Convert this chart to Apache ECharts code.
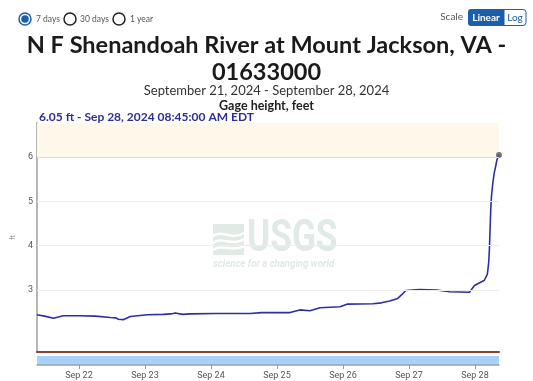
<!DOCTYPE html>
<html>
<head>
<meta charset="utf-8">
<script src="https://cdn.jsdelivr.net/npm/echarts@6/dist/echarts.min.js"></script>
<style>
html,body{margin:0;padding:0;background:#fff;}
#chart{width:533px;height:381px;}
</style>
</head>
<body>
<div id="chart"></div>
<script>
// ---- data ----
const times = [
 '2024-09-21 08:45','2024-09-21 11:30','2024-09-21 14:45','2024-09-21 18:15','2024-09-22 00:30',
 '2024-09-22 06:00','2024-09-22 11:25','2024-09-22 13:30','2024-09-22 14:20','2024-09-22 15:00','2024-09-22 16:10',
 '2024-09-22 18:40','2024-09-23 00:50','2024-09-23 06:40','2024-09-23 09:30','2024-09-23 11:00','2024-09-23 13:35',
 '2024-09-23 16:25','2024-09-24 01:30','2024-09-24 08:00','2024-09-24 14:15','2024-09-24 18:30','2024-09-25 04:45',
 '2024-09-25 08:20','2024-09-25 12:00','2024-09-25 15:40','2024-09-25 22:55','2024-09-26 01:30','2024-09-26 10:55',
 '2024-09-26 14:00','2024-09-26 17:00','2024-09-26 19:55','2024-09-26 21:30','2024-09-26 22:50','2024-09-27 03:50',
 '2024-09-27 10:05','2024-09-27 14:45','2024-09-27 22:00','2024-09-27 23:50','2024-09-28 03:25','2024-09-28 04:30',
 '2024-09-28 05:00','2024-09-28 05:15','2024-09-28 05:30','2024-09-28 05:45','2024-09-28 06:00','2024-09-28 06:30',
 '2024-09-28 07:00','2024-09-28 07:30','2024-09-28 08:00','2024-09-28 08:45'
];
const gageFt = [
 2.44,2.41,2.36,2.42,2.42,
 2.41,2.38,2.37,2.34,2.36,2.33,
 2.40,2.44,2.45,2.46,2.48,2.45,
 2.46,2.47,2.47,2.47,2.49,2.49,
 2.55,2.53,2.60,2.62,2.68,2.69,
 2.71,2.75,2.81,2.90,2.99,3.01,
 3.00,2.96,2.95,3.10,3.22,3.35,
 3.61,3.91,4.36,4.81,5.11,5.41,
 5.64,5.78,5.94,6.05
];
const yTickLabels = [3,4,5,6];
const floodStage = 6;
const yMin = 1.6, yMax = 6.77;
const xStart = '2024-09-21 08:45', xEnd = '2024-09-28 08:45';
const monthNames = ['Jan','Feb','Mar','Apr','May','Jun','Jul','Aug','Sep','Oct','Nov','Dec'];
const titleText = 'N F Shenandoah River at Mount Jackson, VA -\n01633000';
const subText = 'September 21, 2024 - September 28, 2024';
const paramText = 'Gage height, feet';
const lastIdx = gageFt.length - 1;
const latestText = gageFt[lastIdx].toFixed(2) + ' ft - Sep 28, 2024 08:45:00 AM EDT';

const series = times.map((t, i) => [t, gageFt[i]]);

const chart = echarts.init(document.getElementById('chart'), null, {renderer: 'canvas'});
const FONT = 'Lato';
const blue = '#1b5faa';
const wm = '#e1eae5';

chart.setOption({
  animation: false,
  title: [
    {text: titleText, left: 'center', top: 27,
     textStyle: {fontFamily: FONT, fontWeight: 'bold', fontSize: 23.5, color: '#1a1a1a', lineHeight: 27}},
    {text: subText, left: 'center', top: 79,
     textStyle: {fontFamily: FONT, fontWeight: 'normal', fontSize: 13, color: '#333'}},
    {text: paramText, left: 'center', top: 94,
     textStyle: {fontFamily: FONT, fontWeight: 'bold', fontSize: 12.5, color: '#222'}},
    {text: latestText, left: 34, top: 106,
     textStyle: {fontFamily: FONT, fontWeight: 'bold', fontSize: 12, color: '#2e2e96'}}
  ],
  grid: [
    {left: 37, right: 34, top: 123, bottom: 29},
    {left: 37, right: 34, top: 356, height: 9, show: true, backgroundColor: '#a9d2fb', borderWidth: 0}
  ],
  xAxis: [
    {type: 'time', gridIndex: 0, min: xStart, max: xEnd,
     axisLine: {onZero: false, lineStyle: {color: '#8c3f35', width: 2}},
     axisTick: {show: false}, axisLabel: {show: false}, splitLine: {show: false}},
    {type: 'time', gridIndex: 1, min: xStart, max: xEnd, offset: 2,
     minInterval: 86400000, maxInterval: 86400000,
     axisLine: {lineStyle: {color: '#a0a0a0', width: 1.5}},
     axisTick: {show: true, length: 4, lineStyle: {color: '#999'}},
     axisLabel: {show: true, color: '#555', fontSize: 9, fontFamily: 'Roboto', margin: 4,
       showMinLabel: false, showMaxLabel: false,
       formatter: v => { const d = new Date(v); return monthNames[d.getMonth()] + ' ' + d.getDate(); }},
     splitLine: {show: false}}
  ],
  yAxis: [
    {type: 'value', gridIndex: 0, min: yMin, max: yMax,
     name: 'ft', nameLocation: 'middle', nameGap: 5,
     nameTextStyle: {fontSize: 6.5, color: '#777', fontFamily: 'Roboto'},
     axisLine: {show: true, lineStyle: {color: '#b5b5b5', width: 2}},
     axisTick: {show: false},
     axisLabel: {color: '#555', fontSize: 9, fontFamily: 'Roboto', margin: 4,
       formatter: v => yTickLabels.indexOf(Math.round(v * 1000) / 1000) >= 0 ? String(v) : ''},
     splitLine: {show: false}},
    {type: 'value', gridIndex: 1, show: false, min: 0, max: 1}
  ],
  graphic: [
    // radio buttons
    {type: 'circle', shape: {cx: 25, cy: 19, r: 6}, style: {fill: '#fff', stroke: blue, lineWidth: 1.5}},
    {type: 'circle', shape: {cx: 25, cy: 19, r: 3.8}, style: {fill: blue}},
    {type: 'text', x: 36, y: 19, style: {text: '7 days', fill: '#555', font: '8.5px Lato', textVerticalAlign: 'middle'}},
    {type: 'circle', shape: {cx: 70, cy: 19, r: 6}, style: {fill: '#fff', stroke: '#222', lineWidth: 1.5}},
    {type: 'text', x: 80, y: 19, style: {text: '30 days', fill: '#555', font: '8.5px Lato', textVerticalAlign: 'middle'}},
    {type: 'circle', shape: {cx: 119, cy: 19, r: 6}, style: {fill: '#fff', stroke: '#222', lineWidth: 1.5}},
    {type: 'text', x: 130, y: 19, style: {text: '1 year', fill: '#555', font: '8.5px Lato', textVerticalAlign: 'middle'}},
    // scale buttons
    {type: 'text', x: 463, y: 17, style: {text: 'Scale', fill: '#555', font: '10px Lato', textAlign: 'right', textVerticalAlign: 'middle'}},
    {type: 'rect', shape: {x: 468, y: 9, width: 36, height: 17, r: [3,0,0,3]}, style: {fill: blue}},
    {type: 'text', x: 486, y: 17.5, style: {text: 'Linear', fill: '#fff', font: 'bold 10px Lato', textAlign: 'center', textVerticalAlign: 'middle'}},
    {type: 'rect', shape: {x: 504, y: 9.5, width: 22, height: 16, r: [0,3,3,0]}, style: {fill: '#fff', stroke: blue, lineWidth: 1}},
    {type: 'text', x: 515, y: 17.5, style: {text: 'Log', fill: blue, font: '10px Lato', textAlign: 'center', textVerticalAlign: 'middle'}},
    // USGS watermark
    {type: 'rect', z: -1, silent: true, shape: {x: 213, y: 224, width: 31, height: 31}, style: {fill: wm}},
    {type: 'bezierCurve', z: -1, silent: true, shape: {x1: 213, y1: 236, cpx1: 222, cpy1: 229, cpx2: 232, cpy2: 241, x2: 244, y2: 233}, style: {stroke: '#fff', lineWidth: 2.5, fill: null}},
    {type: 'bezierCurve', z: -1, silent: true, shape: {x1: 213, y1: 243, cpx1: 222, cpy1: 236, cpx2: 232, cpy2: 247, x2: 244, y2: 239}, style: {stroke: '#fff', lineWidth: 2.5, fill: null}},
    {type: 'bezierCurve', z: -1, silent: true, shape: {x1: 213, y1: 250, cpx1: 222, cpy1: 243, cpx2: 232, cpy2: 253, x2: 244, y2: 246}, style: {stroke: '#fff', lineWidth: 2.5, fill: null}},
    {type: 'text', z: -1, silent: true, x: 247, y: 240, scaleX: 0.8, originX: 0, originY: 0,
     style: {text: 'USGS', fill: wm, font: 'bold 44px Roboto', textVerticalAlign: 'middle'}},
    {type: 'text', z: -1, silent: true, x: 213, y: 264, scaleX: 0.92, originX: 0, originY: 0,
     style: {text: 'science for a changing world', fill: wm, font: 'italic bold 10.5px Roboto', textVerticalAlign: 'middle'}}
  ],
  series: [
    {type: 'line', xAxisIndex: 0, yAxisIndex: 0, data: series, showSymbol: false, symbol: 'none',
     lineStyle: {color: '#2d2da6', width: 1.6}, z: 3,
     markLine: {silent: true, symbol: 'none', label: {show: false},
       data: yTickLabels.map(v => ({yAxis: v, lineStyle: {color: v === floodStage ? '#f5dc8e' : '#ececec', width: 1, type: 'solid'}}))},
     markArea: {silent: true, itemStyle: {color: '#fdf8ea'},
       data: [[{yAxis: floodStage}, {yAxis: yMax}]]}
    },
    {type: 'scatter', xAxisIndex: 0, yAxisIndex: 0, data: [series[lastIdx]], symbolSize: 6,
     itemStyle: {color: '#555'}, z: 4}
  ]
});
</script>
</body>
</html>
